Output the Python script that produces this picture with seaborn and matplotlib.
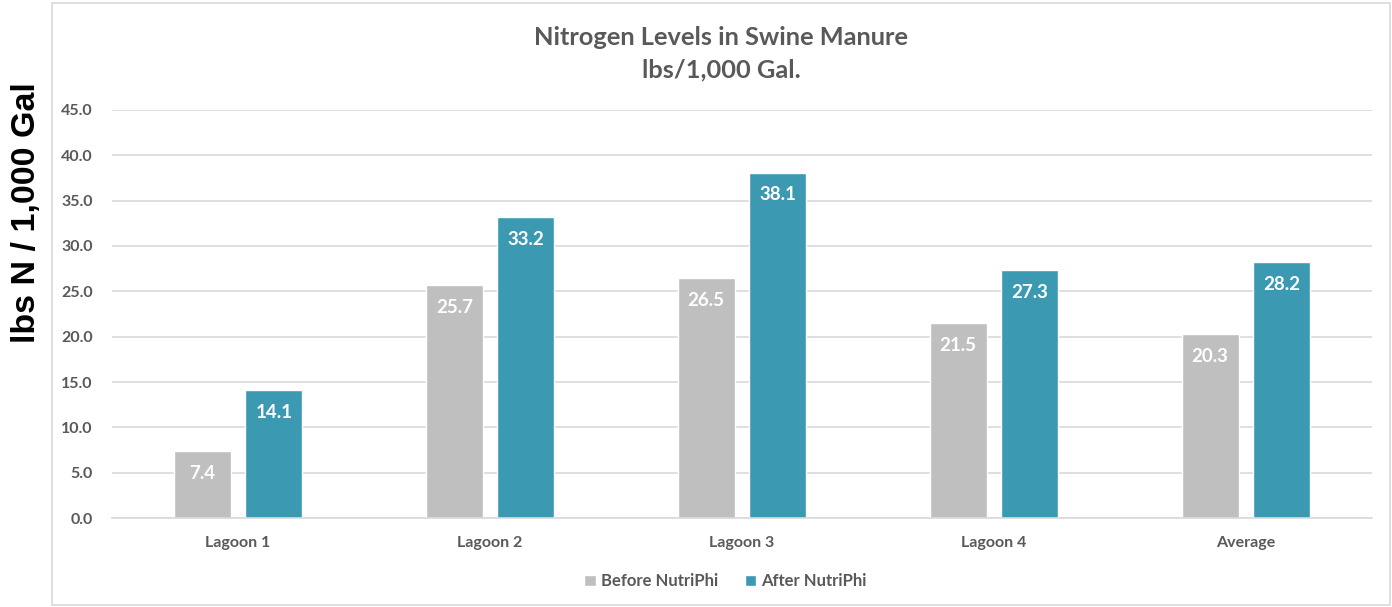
import matplotlib
matplotlib.use("Agg")
import matplotlib.pyplot as plt
import seaborn as sns
import pandas as pd
from matplotlib.patches import Rectangle

categories = ["Lagoon 1", "Lagoon 2", "Lagoon 3", "Lagoon 4", "Average"]
before = [7.4, 25.7, 26.5, 21.5, 20.3]
after = [14.1, 33.2, 38.1, 27.3, 28.2]
series_names = ["Before NutriPhi", "After NutriPhi"]
yticks = [0, 5, 10, 15, 20, 25, 30, 35, 40, 45]

df = pd.DataFrame({
    "cat": categories * 2,
    "val": before + after,
    "series": [series_names[0]] * len(categories) + [series_names[1]] * len(categories),
})

sns.set_theme(style="white")
plt.rcParams["font.family"] = ["Lato", "DejaVu Sans"]

fig = plt.figure(figsize=(13.92, 6.07), dpi=100)
ax = fig.add_axes([0.0805, 0.1466, 0.905, 0.6722])

palette = {series_names[0]: "#BFBFBF", series_names[1]: "#3B99B2"}
sns.barplot(data=df, x="cat", y="val", hue="series", palette=palette, ax=ax,
            width=0.567, gap=0.2, saturation=1, legend=True)

ax.set_ylim(0, 45)
ax.set_yticks(yticks)
ax.set_yticklabels([f"{v:.1f}" for v in yticks])
ax.grid(axis="y", color="#D9D9D9", linewidth=1.2)
ax.set_axisbelow(True)
for s in ["top", "right", "left"]:
    ax.spines[s].set_visible(False)
ax.spines["bottom"].set_color("#D9D9D9")
ax.spines["bottom"].set_linewidth(1.2)
ax.tick_params(axis="both", length=0, labelsize=11.5, labelcolor="#595959")
ax.tick_params(axis="y", pad=14)
ax.tick_params(axis="x", pad=13)
for lab in ax.get_xticklabels() + ax.get_yticklabels():
    lab.set_fontweight("bold")
ax.set_xlabel("")
ax.set_ylabel("")

for cont in ax.containers:
    for bar in cont:
        h = bar.get_height()
        ax.annotate(f"{h:.1f}", (bar.get_x() + bar.get_width() / 2, h),
                    xytext=(0, -10), textcoords="offset points",
                    ha="center", va="top", color="white",
                    fontsize=13.5, fontweight="bold")

handles, labels = ax.get_legend_handles_labels()
ax.legend(handles, labels, loc="center", bbox_to_anchor=(0.487, -0.155),
          ncol=2, frameon=False, handlelength=0.7,
          handleheight=0.7, handletextpad=0.3, columnspacing=1.6,
          labelcolor="#595959", prop={"weight": "bold", "size": 12})

title_x = 721 / 1392
fig.text(title_x, 0.938, "Nitrogen Levels in Swine Manure", ha="center", va="center",
         fontsize=18.3, fontweight="bold", color="#595959")
fig.text(title_x, 0.884, "lbs/1,000 Gal.", ha="center", va="center",
         fontsize=18.3, fontweight="bold", color="#595959")

fig.text(0.019, 0.65, "lbs N / 1,000 Gal", rotation=90, ha="center", va="center",
         fontsize=24.5, fontweight="bold", color="black",
         family=["Liberation Sans", "DejaVu Sans"])

fig.patches.append(Rectangle((52 / 1392, 2 / 607), 1338 / 1392, 602 / 607,
                             transform=fig.transFigure, fill=False,
                             edgecolor="#D9D9D9", linewidth=1.2))

fig.savefig("out.png", dpi=100)
